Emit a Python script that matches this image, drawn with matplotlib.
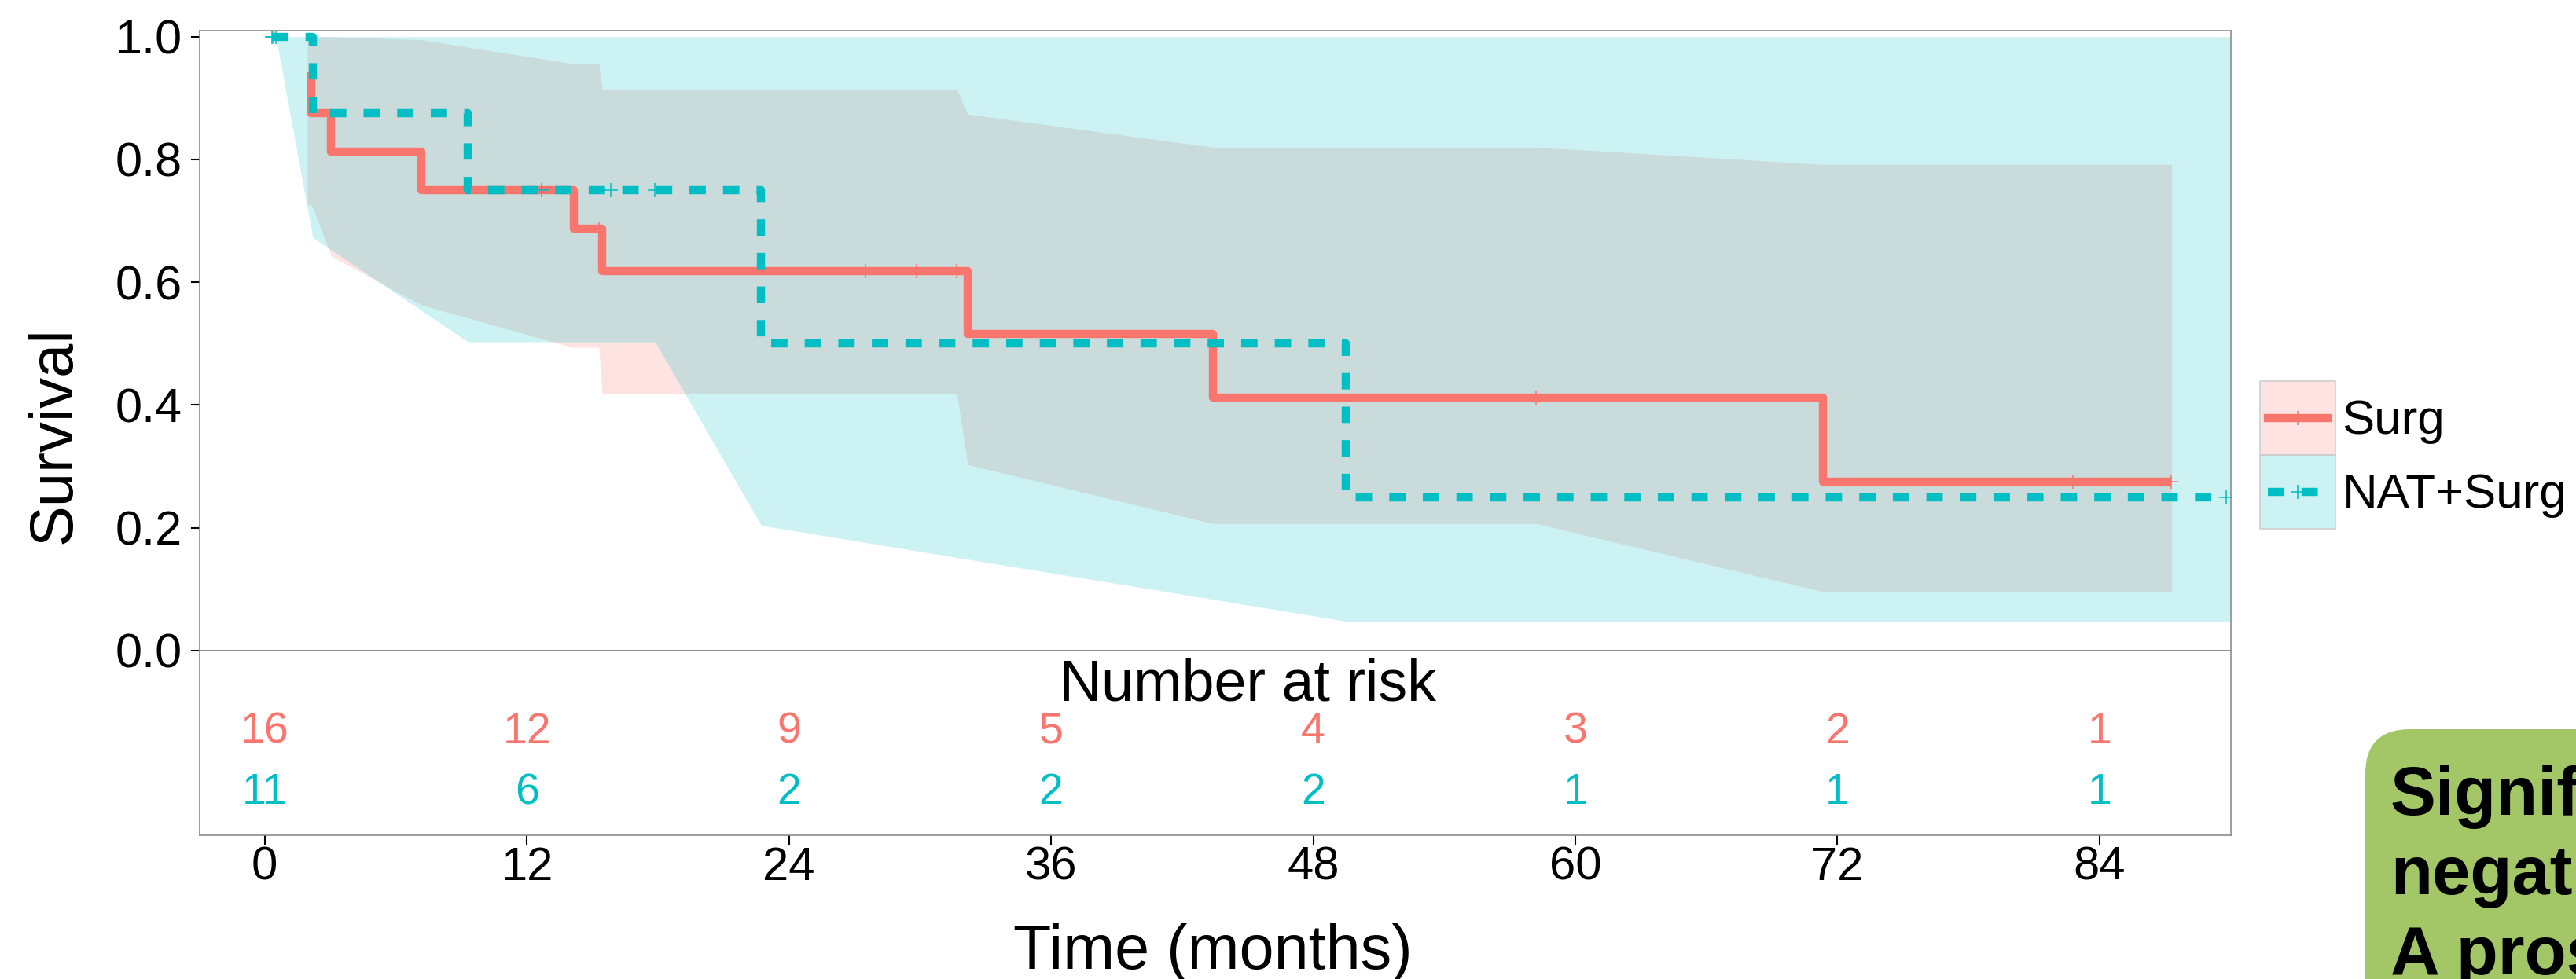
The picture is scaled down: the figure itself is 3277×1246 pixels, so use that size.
import numpy as np
import matplotlib
matplotlib.use('Agg')
import matplotlib.pyplot as plt
from matplotlib.patches import Patch, FancyBboxPatch
from matplotlib.lines import Line2D
from matplotlib.transforms import IdentityTransform
from matplotlib.legend_handler import HandlerLine2D

plt.rcParams['font.family'] = ['Liberation Sans', 'DejaVu Sans']

# ---------------- data ----------------
groups = ['Surg', 'NAT+Surg']
colors = ['#F8766D', '#00BFC4']

# Kaplan-Meier steps
surg_time = [1.95, 2.13, 3.03, 7.16, 14.15, 15.45, 32.17, 43.42, 71.35, 87.3]
surg_surv = [0.9375, 0.875, 0.8125, 0.75, 0.6875, 0.6188, 0.5156, 0.4125, 0.275, 0.275]
surg_censor = [15.3, 27.5, 29.84, 31.69, 58.2, 82.77, 87.3]

nat_time = [0.34, 2.2, 9.31, 22.73, 49.5, 89.8]
nat_surv = [1.0, 0.875, 0.75, 0.5, 0.25, 0.25]
nat_censor = [0.34, 0.42, 0.51, 12.69, 15.86, 17.87, 89.8]

# confidence ribbons
surg_band_t = [1.95, 2.13, 3.06, 7.17, 14.1, 15.3, 15.45, 31.69, 32.18, 43.4, 58.2, 71.35, 87.3]
surg_band_lo = [0.727, 0.727, 0.642, 0.563, 0.494, 0.494, 0.419, 0.419, 0.303, 0.207, 0.207, 0.096, 0.096]
surg_band_hi = [1.0, 1.0, 1.0, 0.995, 0.956, 0.956, 0.914, 0.914, 0.874, 0.820, 0.820, 0.792, 0.792]

nat_band_t = [0.51, 2.2, 9.31, 17.87, 22.73, 49.5, 90.0]
nat_band_lo = [1.0, 0.673, 0.503, 0.503, 0.204, 0.048, 0.048]
nat_band_hi = [1.0, 1.0, 1.0, 1.0, 1.0, 1.0, 1.0]

# number at risk table
risk_times = [0, 12, 24, 36, 48, 60, 72, 84]
surg_risk = [16, 12, 9, 5, 4, 3, 2, 1]
nat_risk = [11, 6, 2, 2, 2, 1, 1, 1]

y_ticks = [0.0, 0.2, 0.4, 0.6, 0.8, 1.0]

box_lines = ['Signif', 'negati', 'A pros']

# ---------------- figure ----------------
W, H = 3277, 1246
fig = plt.figure(figsize=(W / 100, H / 100), dpi=100)


def fx(px):
    return px / W


def fy(py):
    return 1 - py / H


L, R, T, MB, RB = 254, 2837.5, 39, 828, 1063
ax = fig.add_axes([fx(L), fy(MB), fx(R) - fx(L), fy(T) - fy(MB)])
axr = fig.add_axes([fx(L), fy(RB), fx(R) - fx(L), fy(MB) - fy(RB)])

spine_col = '#8c8c8c'
for a in (ax, axr):
    for s in a.spines.values():
        s.set_color(spine_col)
        s.set_linewidth(1.2)
    a.set_xlim(-2.98, 90.0)

LW = 7.5
DASH = (0, (2.0, 2.1))


def surv_at(times, survs, t):
    idx = np.searchsorted(np.asarray(times), t, side='right') - 1
    return np.asarray(survs)[np.clip(idx, 0, None)]


# ribbons
ax.fill_between(surg_band_t, surg_band_lo, surg_band_hi, color=colors[0], alpha=0.2, linewidth=0, zorder=1)
ax.fill_between(nat_band_t, nat_band_lo, nat_band_hi, color=colors[1], alpha=0.2, linewidth=0, zorder=1.1)

# curves
ax.plot(surg_time, surg_surv, drawstyle='steps-post', color=colors[0], lw=LW,
        solid_joinstyle='round', solid_capstyle='butt', zorder=3)
ax.plot(nat_time, nat_surv, drawstyle='steps-post', color=colors[1], lw=LW,
        linestyle=DASH, dash_capstyle='butt', dash_joinstyle='round', zorder=4)

# censor marks
ax.plot(surg_censor, surv_at(surg_time, surg_surv, surg_censor), linestyle='none', marker='+',
        ms=13, mew=1.1, color=colors[0], zorder=5)
ax.plot(nat_censor, surv_at(nat_time, nat_surv, nat_censor), linestyle='none', marker='+',
        ms=13, mew=1.1, color=colors[1], zorder=5)

ax.set_ylim(0, 1.0099)
ax.set_yticks(y_ticks)
ax.set_yticklabels([f'{v:.1f}' for v in y_ticks])
ax.tick_params(axis='y', length=8, width=1.5, color='black', labelsize=44, pad=8)
ax.tick_params(axis='x', bottom=False, labelbottom=False)

# risk table
axr.set_ylim(0, 1)
axr.set_yticks([])
axr.set_xticks(risk_times)
axr.set_xticklabels([str(t) for t in risk_times])
axr.tick_params(axis='x', length=9, width=1.5, color='black', labelsize=43, pad=1)
tr = axr.get_xaxis_transform()
for t, n in zip(risk_times, surg_risk):
    axr.text(t, 0.498, str(n), color=colors[0], fontsize=40, ha='center', va='baseline', transform=tr)
for t, n in zip(risk_times, nat_risk):
    axr.text(t, 0.170, str(n), color=colors[1], fontsize=40, ha='center', va='baseline', transform=tr)
axr.text(45, 0.728, 'Number at risk', fontsize=53, ha='center', va='baseline', transform=tr)

# axis titles
fig.text(fx(1543), fy(1233), 'Time (months)', fontsize=57, ha='center', va='baseline')
fig.text(fx(69), fy(554), 'Survival', fontsize=56, ha='center', va='center', rotation=90)


# legend
def fill_rgba(c, a):
    rgb = matplotlib.colors.to_rgb(c)
    return (rgb[0], rgb[1], rgb[2], a)


class CenteredLine(HandlerLine2D):
    """Line handler whose line sits in the vertical middle of the key box."""

    def create_artists(self, legend, orig_handle, xdescent, ydescent, width, height, fontsize, trans):
        arts = super().create_artists(legend, orig_handle, xdescent, ydescent, width, height,
                                      fontsize, trans)
        inset = 0.1 * width
        for a in arts:
            xd = np.linspace(-xdescent + inset, -xdescent + width - inset, len(a.get_xdata()))
            a.set_xdata(xd)
            a.set_ydata(np.full_like(xd, height / 2.0 - ydescent))
        return arts


h_surg = (Patch(facecolor=fill_rgba(colors[0], 0.2), edgecolor='#cfcfcf', linewidth=1.2),
          Line2D([], [], color=colors[0], lw=LW, marker='+', ms=13, mew=1.1))
h_nat = (Patch(facecolor=fill_rgba(colors[1], 0.2), edgecolor='#cfcfcf', linewidth=1.2),
         Line2D([], [], color=colors[1], lw=LW, linestyle=DASH, marker='+', ms=13, mew=1.1))
ax.legend(handles=[h_surg, h_nat], labels=groups, loc='upper left',
          bbox_to_anchor=(fx(2875), fy(485)), bbox_transform=fig.transFigure,
          frameon=False, fontsize=44.6, handlelength=1.55, handleheight=1.96,
          handletextpad=0.14, labelspacing=0, borderpad=0, borderaxespad=0, numpoints=1,
          handler_map={Line2D: CenteredLine()})

# green call-out box (cropped slide element)
box = FancyBboxPatch((3009, -200), 600, (H - 928) + 200,
                     boxstyle='round,pad=0,rounding_size=57', transform=IdentityTransform(),
                     facecolor='#A3C766', edgecolor='none', zorder=0)
fig.add_artist(box)
for txt, base in zip(box_lines, [1037, 1138, 1240]):
    fig.text(fx(3041), fy(base), txt, fontsize=62.6, fontweight='bold', ha='left', va='baseline')

fig.savefig('out.png', dpi=100)
